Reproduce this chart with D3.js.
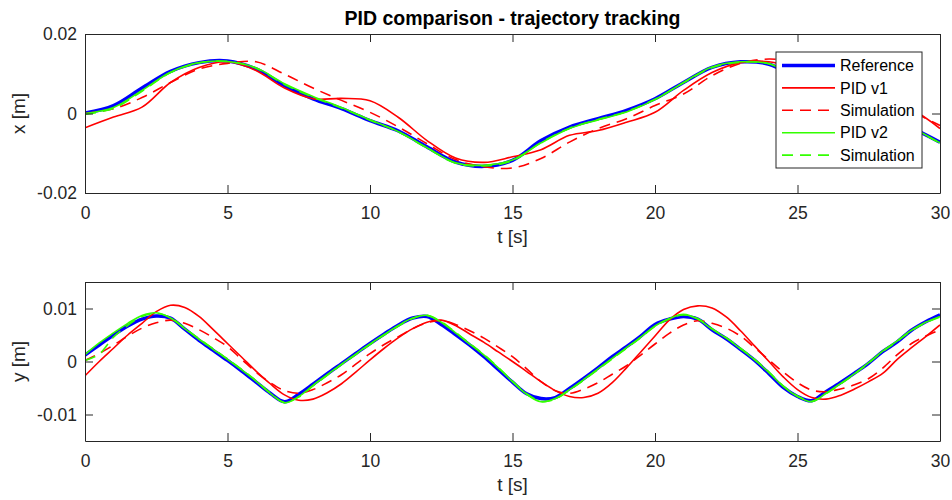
<!DOCTYPE html>
<html>
<head>
<meta charset="utf-8">
<script src="https://cdn.jsdelivr.net/npm/d3@7"></script>
<style>
  body { margin: 0; background: #fff; }
  svg { display: block; font-family: "Liberation Sans", Arial, sans-serif; }
</style>
</head>
<body>
<div id="chart"></div>
<script>
// time samples (s)
var tX = [0,1,2,3,4,5,6,7,8,9,10,11,12,13,14,15,16,17,18,19,20,21,22,23,24,25,26,27,28,29,30];
var tY = [0,0.5,1,1.5,2,2.5,3,3.5,4,4.5,5,5.5,6,6.5,7,7.5,8,8.5,9,9.5,10,10.5,11,11.5,12,12.5,13,13.5,14,14.5,
          15,15.5,16,16.5,17,17.5,18,18.5,19,19.5,20,20.5,21,21.5,22,22.5,23,23.5,24,24.5,25,25.5,26,26.5,27,27.5,28,28.5,29,29.5,30];

// x position [m]
var refX  = [0.0001,0.002,0.0064,0.0106,0.0128,0.0132,0.0112,0.007,0.0037,0.0012,-0.0018,-0.0044,-0.0084,-0.0122,-0.0133,-0.0118,-0.0068,-0.0034,-0.0013,0.0008,0.0037,0.0078,0.0116,0.013,0.0124,0.0088,0.005,0.0022,-0.0006,-0.0036,-0.0072];
var pid1X = [-0.0036,-0.0009,0.0016,0.0078,0.0116,0.013,0.0108,0.0064,0.0037,0.0038,0.0032,-0.001,-0.0068,-0.0112,-0.0123,-0.0109,-0.0091,-0.0055,-0.0043,-0.0022,0.0003,0.0058,0.0103,0.0128,0.013,0.011,0.008,0.005,0.0028,0.001,-0.0038];
var sim1X = [0.0,0.0012,0.004,0.0078,0.0112,0.0126,0.013,0.0099,0.0064,0.0033,0.0003,-0.0034,-0.0076,-0.0116,-0.0134,-0.0137,-0.0113,-0.0072,-0.0038,-0.0013,0.002,0.0049,0.0095,0.0126,0.0137,0.0128,0.0105,0.0072,0.0038,0.0005,-0.003];
var pid2X = [0.0,0.0015,0.0058,0.0104,0.0128,0.0131,0.0115,0.0075,0.0043,0.0015,-0.0016,-0.0046,-0.0086,-0.0124,-0.013,-0.0117,-0.0074,-0.0038,-0.0016,0.0004,0.0035,0.0078,0.0117,0.013,0.0125,0.009,0.0052,0.0024,-0.0004,-0.0035,-0.0074];
var sim2X = [-0.0002,0.0013,0.0056,0.0103,0.0127,0.0131,0.0114,0.0073,0.0041,0.0014,-0.0017,-0.0046,-0.0087,-0.0125,-0.0132,-0.0119,-0.0073,-0.0037,-0.0015,0.0005,0.0036,0.0077,0.0115,0.0129,0.0125,0.009,0.0051,0.0023,-0.0005,-0.0036,-0.0075];

// y position [m]
var refY  = [0.0012,0.0031,0.005,0.0067,0.008,0.0086,0.0082,0.0061,0.004,0.0021,0.0002,-0.0018,-0.0039,-0.006,-0.0076,-0.0062,-0.0043,-0.0023,-0.0004,0.0015,0.0034,0.0052,0.0069,0.0082,0.0085,0.007,0.0051,0.0031,0.0009,-0.0015,
             -0.0039,-0.0061,-0.007,-0.0068,-0.0051,-0.0032,-0.0012,0.0009,0.0028,0.0048,0.007,0.008,0.0085,0.008,0.006,0.0043,0.0023,0.0002,-0.0023,-0.0049,-0.0066,-0.0074,-0.0057,-0.004,-0.0022,-0.0003,0.0019,0.0037,0.0059,0.0075,0.0088];
var pid1Y = [-0.0027,0.0,0.0025,0.005,0.0072,0.0094,0.0106,0.0102,0.0085,0.006,0.0034,0.0008,-0.0018,-0.0042,-0.0063,-0.0073,-0.0071,-0.0059,-0.0042,-0.002,0.0003,0.0025,0.0045,0.0062,0.0074,0.0078,0.0068,0.0052,0.0036,0.0018,
             0.0,-0.0019,-0.0038,-0.0055,-0.0066,-0.0068,-0.006,-0.004,-0.0012,0.0018,0.0048,0.0078,0.0098,0.0105,0.0101,0.0084,0.0058,0.0029,0.0,-0.0029,-0.0053,-0.0068,-0.0071,-0.0064,-0.0052,-0.0038,-0.0022,0.0004,0.0026,0.0047,0.0069];
var sim1Y = [0.0002,0.0015,0.0031,0.0048,0.0063,0.0073,0.0078,0.0072,0.006,0.0045,0.0028,0.0004,-0.002,-0.004,-0.0055,-0.006,-0.0053,-0.004,-0.0025,-0.0005,0.0015,0.0032,0.0047,0.0062,0.0073,0.0077,0.007,0.0058,0.0044,0.0027,
             0.0009,-0.0014,-0.0038,-0.0055,-0.006,-0.0052,-0.004,-0.0024,-0.0008,0.0012,0.0033,0.0053,0.0069,0.0077,0.0072,0.0063,0.0048,0.0026,0.0003,-0.002,-0.004,-0.0054,-0.0057,-0.0052,-0.0044,-0.0032,-0.0012,0.0013,0.0034,0.0048,0.006];
var pid2Y = [0.0013,0.0035,0.0054,0.0072,0.0087,0.0092,0.0082,0.0062,0.0042,0.0023,0.0004,-0.0016,-0.0037,-0.006,-0.0078,-0.0066,-0.0045,-0.0025,-0.0005,0.0014,0.0033,0.0051,0.0068,0.0082,0.0087,0.0074,0.0054,0.0033,0.0012,-0.0012,
             -0.0038,-0.0062,-0.0076,-0.007,-0.0053,-0.0034,-0.0014,0.0006,0.0026,0.0046,0.0067,0.0081,0.0089,0.008,0.0061,0.0044,0.0024,0.0003,-0.0021,-0.0047,-0.0066,-0.0076,-0.006,-0.0042,-0.0023,-0.0002,0.002,0.0039,0.0059,0.0074,0.0085];
var sim2Y = [0.0002,0.0014,0.0046,0.0068,0.0085,0.0091,0.0083,0.0063,0.0043,0.0024,0.0005,-0.0015,-0.0036,-0.0059,-0.0077,-0.0067,-0.0046,-0.0026,-0.0006,0.0013,0.0032,0.005,0.0067,0.0081,0.0087,0.0075,0.0055,0.0034,0.0013,-0.0011,
             -0.0037,-0.0061,-0.0075,-0.0071,-0.0054,-0.0035,-0.0015,0.0005,0.0025,0.0045,0.0066,0.008,0.0088,0.0081,0.0062,0.0045,0.0025,0.0004,-0.002,-0.0046,-0.0065,-0.0075,-0.0061,-0.0043,-0.0024,-0.0003,0.0019,0.0038,0.0058,0.0073,0.0084];

var legendNames = ["Reference", "PID v1", "Simulation", "PID v2", "Simulation"];
var xTicks = [0, 5, 10, 15, 20, 25, 30];

var width = 952, height = 500;
var axisColor = "#262626";

// one entry per curve, same order in both panels
var styles = [
  { color: "#0000ff", width: 3.5, dash: null },
  { color: "#ff0000", width: 1.6, dash: null },
  { color: "#ff0000", width: 1.6, dash: "11,7" },
  { color: "#33ff00", width: 1.6, dash: null },
  { color: "#33ff00", width: 1.6, dash: "11,7" }
];

var svg = d3.select("#chart").append("svg")
  .attr("width", width)
  .attr("height", height);

svg.append("rect").attr("width", width).attr("height", height).attr("fill", "#fff");

svg.append("text")
  .attr("x", 512.5)
  .attr("y", 25)
  .attr("text-anchor", "middle")
  .attr("font-weight", "bold")
  .attr("font-size", 19.5)
  .attr("fill", "#000")
  .text("PID comparison - trajectory tracking");

function drawPanel(id, top, bottom, yDomain, yTicks, yLabel, times, series) {
  var left = 85, right = 940;
  var x = d3.scaleLinear().domain([0, 30]).range([left, right]);
  var y = d3.scaleLinear().domain(yDomain).range([bottom, top]);

  svg.append("clipPath").attr("id", id)
    .append("rect")
    .attr("x", left).attr("y", top)
    .attr("width", right - left).attr("height", bottom - top);

  var plot = svg.append("g").attr("clip-path", "url(#" + id + ")");

  var line = d3.line()
    .x(function(d) { return x(d[0]); })
    .y(function(d) { return y(d[1]); })
    .curve(d3.curveCatmullRom.alpha(0.5));

  series.forEach(function(values, i) {
    var pts = times.map(function(t, j) { return [t, values[j]]; });
    plot.append("path")
      .datum(pts)
      .attr("fill", "none")
      .attr("stroke", styles[i].color)
      .attr("stroke-width", styles[i].width)
      .attr("stroke-dasharray", styles[i].dash)
      .attr("stroke-linejoin", "round")
      .attr("d", line);
  });

  // axes: ticks point inward, box on all four sides
  var fmt = function(d) { return String(d); };

  var gBottom = svg.append("g").attr("transform", "translate(0," + bottom + ")")
    .call(d3.axisBottom(x).tickValues(xTicks).tickSizeInner(-8).tickSizeOuter(0).tickPadding(14).tickFormat(fmt));
  var gTop = svg.append("g").attr("transform", "translate(0," + top + ")")
    .call(d3.axisTop(x).tickValues(xTicks).tickSizeInner(-8).tickSizeOuter(0).tickFormat(""));
  var gLeft = svg.append("g").attr("transform", "translate(" + left + ",0)")
    .call(d3.axisLeft(y).tickValues(yTicks).tickSizeInner(-8).tickSizeOuter(0).tickPadding(8).tickFormat(fmt));
  var gRight = svg.append("g").attr("transform", "translate(" + right + ",0)")
    .call(d3.axisRight(y).tickValues(yTicks).tickSizeInner(-8).tickSizeOuter(0).tickFormat(""));

  [gBottom, gTop, gLeft, gRight].forEach(function(g) {
    g.attr("font-family", null).attr("font-size", null);
    g.select(".domain").attr("stroke", axisColor).attr("stroke-width", 1);
    g.selectAll(".tick line").attr("stroke", axisColor).attr("stroke-width", 1);
    g.selectAll(".tick text").attr("fill", axisColor).attr("font-size", 17.5);
  });

  svg.append("text")
    .attr("x", (left + right) / 2)
    .attr("y", bottom + 50)
    .attr("text-anchor", "middle")
    .attr("font-size", 19)
    .attr("fill", axisColor)
    .text("t [s]");

  svg.append("text")
    .attr("transform", "translate(25," + (top + bottom) / 2 + ") rotate(-90)")
    .attr("text-anchor", "middle")
    .attr("font-size", 19)
    .attr("fill", axisColor)
    .text(yLabel);
}

drawPanel("clipTop", 34, 193, [-0.02, 0.02], [-0.02, 0, 0.02], "x [m]", tX,
  [refX, pid1X, sim1X, pid2X, sim2X]);
drawPanel("clipBottom", 282, 441, [-0.015, 0.015], [-0.01, 0, 0.01], "y [m]", tY,
  [refY, pid1Y, sim1Y, pid2Y, sim2Y]);

// legend
var legend = svg.append("g");
legend.append("rect")
  .attr("x", 776).attr("y", 52)
  .attr("width", 146).attr("height", 116)
  .attr("fill", "#fff")
  .attr("stroke", axisColor)
  .attr("stroke-width", 1);

legendNames.forEach(function(name, i) {
  var ly = 65.5 + i * 22.4;
  legend.append("line")
    .attr("x1", 782).attr("x2", 835)
    .attr("y1", ly).attr("y2", ly)
    .attr("stroke", styles[i].color)
    .attr("stroke-width", styles[i].width)
    .attr("stroke-dasharray", styles[i].dash);
  legend.append("text")
    .attr("x", 840)
    .attr("y", ly)
    .attr("dy", "0.35em")
    .attr("font-size", 16)
    .attr("fill", "#000")
    .text(name);
});
</script>
</body>
</html>
